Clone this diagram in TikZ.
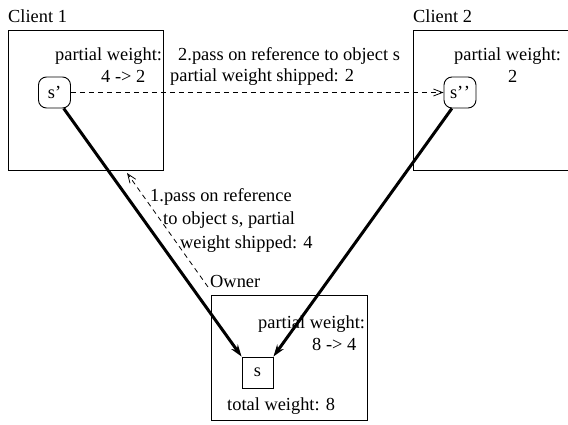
\documentclass[tikz,border=0pt]{standalone}
\usepackage{fontspec}
\setmainfont{Liberation Serif}
\usetikzlibrary{arrows.meta}
\begin{document}
\begin{tikzpicture}[x=1pt,y=-1pt,
  every node/.style={font=\fontsize{18.4}{22}\selectfont},
  txt/.style={anchor=base west,inner sep=0pt},
  boxx/.style={draw,line width=0.9pt,inner sep=0pt},
  obj/.style={draw,line width=0.9pt,inner sep=0pt,minimum width=32pt,minimum height=31pt},
  ref/.style={line width=3pt,-{Stealth[length=12pt,width=8pt]}},
  msg/.style={line width=0.8pt,dash pattern=on 5pt off 4pt,-{Straight Barb[length=9pt,width=7pt]}}]
\useasboundingbox (0,0) rectangle (568,425);
% boxes
\node[boxx,minimum width=155pt,minimum height=140pt] (c1) at (85.5,100) {};
\node[boxx,minimum width=160pt,minimum height=140pt] (c2) at (493,100) {};
\node[boxx,minimum width=156pt,minimum height=125pt] (ow) at (289,357.5) {};
\node[txt] (c1l) at (8,23) {Client 1};
\node[txt] (c2l) at (413,23) {Client 2};
\node[txt] (owl) at (210,287) {Owner};
% objects
\node[obj,rounded corners=8pt] (sp) at (54.5,92.5) {s’};
\node[obj,rounded corners=8pt] (spp) at (460,92.5) {s’\kern0.5pt’};
\node[obj,minimum width=31pt] (s) at (257.5,372.5) {s};
% texts
\node[txt] (t1) at (55,61) {partial weight:};
\node[txt] (t2) at (101,83) {4 -> 2};
\node[txt] (t3) at (178,61) {2.pass on reference to object s};
\node[txt] (t4) at (170,82) {partial weight shipped: 2};
\node[txt] (t5) at (454,61) {partial weight:};
\node[txt] (t6) at (508,83) {2};
\node[txt] (t7) at (150,202) {1.pass on reference};
\node[txt] (t8) at (163,225) {to object s, partial};
\node[txt] (t9) at (180,248) {weight shipped: 4};
\node[txt] (t10) at (258,328) {partial weight:};
\node[txt] (t11) at (312,350) {8 -> 4};
\node[txt] (t12) at (227,410) {total weight: 8};
% connectors
\draw[ref] (sp.-60) -- (s.north west);
\draw[ref] (spp.-117) -- (s.north east);
\draw[msg] (sp.east) -- (spp.west);
\coordinate (m1a) at (208,287);
\coordinate (m1b) at (127,173);
\draw[msg] (m1a) -- (m1b);
\end{tikzpicture}
\end{document}
